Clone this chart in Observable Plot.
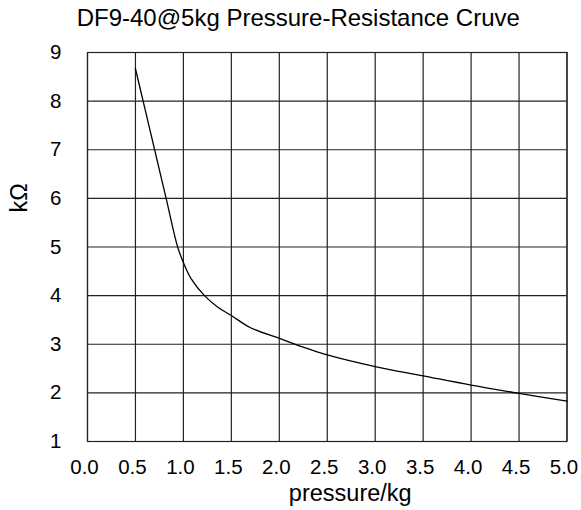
<!DOCTYPE html>
<html>
<head>
<meta charset="utf-8">
<script src="https://cdn.jsdelivr.net/npm/d3@7"></script>
<script src="https://cdn.jsdelivr.net/npm/@observablehq/plot@0.6"></script>
<style>
  html, body { margin: 0; padding: 0; background: #fff; }
  #chart svg { display: block; }
</style>
</head>
<body>
<div id="chart"></div>
<script>
const pressure = [0.5, 0.58, 0.70, 0.82, 0.94, 1.0, 1.08, 1.22, 1.36, 1.5, 1.7, 2.0, 2.25, 2.5, 3.0, 3.5, 4.0, 4.5, 5.0];
const resistance = [8.67, 8.0, 7.0, 6.0, 5.0, 4.68, 4.35, 4.0, 3.76, 3.59, 3.34, 3.12, 2.94, 2.78, 2.54, 2.35, 2.16, 1.99, 1.83];
const xTicks = [0, 0.5, 1, 1.5, 2, 2.5, 3, 3.5, 4, 4.5, 5];
const yTicks = [1, 2, 3, 4, 5, 6, 7, 8, 9];
const title = "DF9-40@5kg Pressure-Resistance Cruve";
const xLabel = "pressure/kg";
const yLabel = "kΩ";

const data = pressure.map((p, i) => ({p, r: resistance[i]}));
const font = "'Liberation Sans', Arial, Helvetica, sans-serif";

const chart = Plot.plot({
  width: 581,
  height: 510,
  marginLeft: 87,
  marginRight: 14.5,
  marginTop: 52,
  marginBottom: 69,
  style: {fontFamily: font, fontSize: "20.5px", color: "#000", background: "#fff"},
  x: {domain: [0, 5], ticks: xTicks, tickFormat: d3.format(".1f"), label: null},
  y: {domain: [1, 9], ticks: yTicks, label: null},
  marks: [
    Plot.gridX(xTicks, {stroke: "#222", strokeOpacity: 1, strokeWidth: 1.2}),
    Plot.gridY(yTicks, {stroke: "#222", strokeOpacity: 1, strokeWidth: 1.2}),
    Plot.frame({stroke: "#222", strokeWidth: 1.2}),
    Plot.axisX(xTicks, {tickSize: 0, tickPadding: 18, tickFormat: d3.format(".1f"), fontSize: 20.5, dx: -3, label: null}),
    Plot.axisY(yTicks, {tickSize: 0, tickPadding: 26, fontSize: 20.5, label: null}),
    Plot.line(data, {x: "p", y: "r", stroke: "#000", strokeWidth: 1.3, curve: "catmull-rom"}),
    Plot.text([title], {frameAnchor: "top", lineAnchor: "middle", dx: -29, dy: -33.7, fontSize: 24, fill: "#000"}),
    Plot.text([xLabel], {frameAnchor: "bottom", lineAnchor: "middle", dx: 23, dy: 52.3, fontSize: 23.5, fill: "#000"}),
    Plot.text([yLabel], {frameAnchor: "left", lineAnchor: "middle", dx: -68, dy: -34.5, rotate: -90, fontSize: 23.5, fill: "#000"})
  ]
});
document.getElementById("chart").appendChild(chart);
</script>
</body>
</html>
